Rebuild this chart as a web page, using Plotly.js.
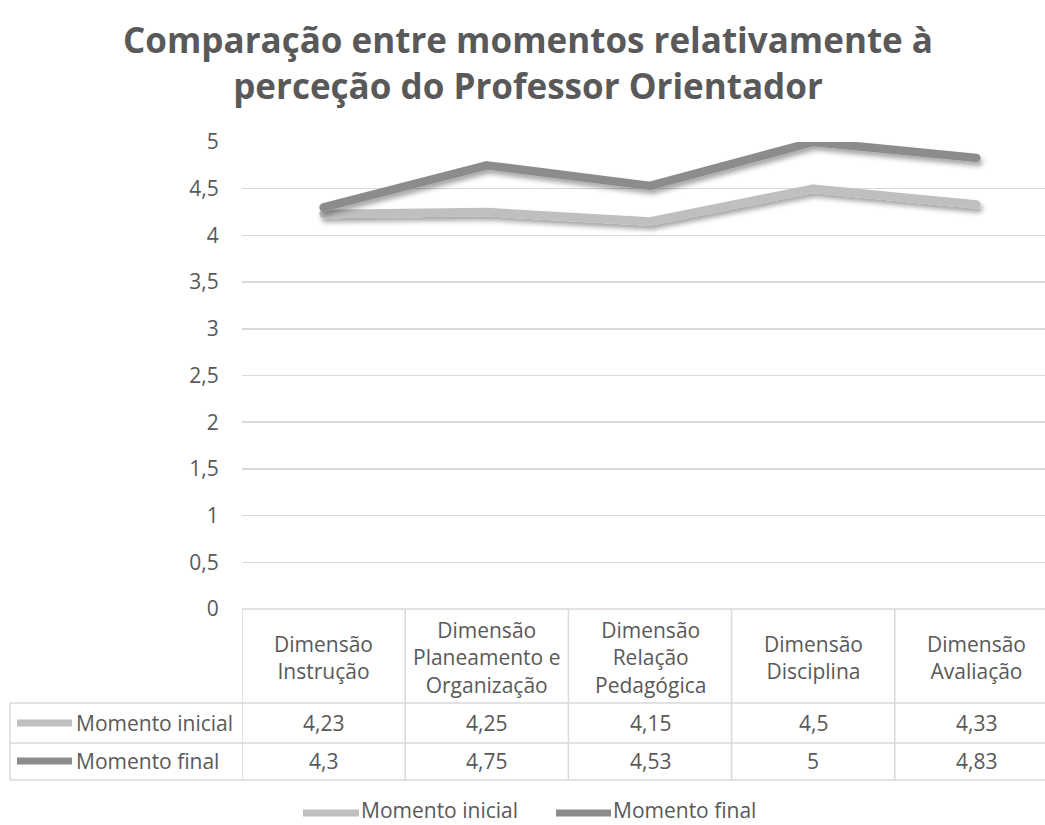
<!DOCTYPE html>
<html>
<head>
<meta charset="utf-8">
<script src="https://cdn.plot.ly/plotly-3.0.1.min.js"></script>
<style>
html,body{margin:0;padding:0;overflow:hidden;background:#fff;}
#chart{width:1060px;height:825px;}
</style>
</head>
<body>
<div id="chart"></div>
<script>
// ---- data ----
var categories = ["Dimensão Instrução", "Dimensão Planeamento e Organização", "Dimensão Relação Pedagógica", "Dimensão Disciplina", "Dimensão Avaliação"];
var categoryLabels = ["Dimensão<br>Instrução", "Dimensão<br>Planeamento e<br>Organização", "Dimensão<br>Relação<br>Pedagógica", "Dimensão<br>Disciplina", "Dimensão<br>Avaliação"];
var seriesNames = ["Momento inicial", "Momento final"];
var momentoInicial = [4.23, 4.25, 4.15, 4.5, 4.33];
var momentoFinal = [4.3, 4.75, 4.53, 5, 4.83];
var yTicks = [0, 0.5, 1, 1.5, 2, 2.5, 3, 3.5, 4, 4.5, 5];
var titleText = "Comparação entre momentos relativamente à<br>perceção do Professor Orientador";

// ---- layout geometry ----
var W = 1060, H = 825;
var L = 242, R = 2, T = 142, B = 216;
var plotW = W - L - R, plotH = H - T - B;
var bottomY = H - B;
function px(x){ return (x - L) / plotW; }
function py(y){ return (bottomY - y) / plotH; }

var colors = ["#bfbfbf", "#8c8c8c"];
var textColor = "#595959";
var gridColor = "#d9d9d9";
var fontFam = "'Open Sans', 'Noto Sans', sans-serif";
var fs = 21;
var series = [momentoInicial, momentoFinal];

function fmt(v){ return String(v).replace('.', ','); }

var traces = series.map(function(vals, i){
  return {
    type: 'scatter', mode: 'lines', name: seriesNames[i],
    x: categories, y: vals,
    line: {color: colors[i], width: 8.5},
    hoverinfo: 'skip', showlegend: false
  };
});

var shapes = [];
var annotations = [];
var tableBottom = 780, rowLines = [703, 743, 780], rowCenters = [723, 761];
var borderLine = {color: gridColor, width: 1.5};

// title
annotations.push({xref:'paper', yref:'paper', x:px(528), y:py(62), text:titleText, showarrow:false,
  xanchor:'center', yanchor:'middle', align:'center',
  font:{family:fontFam, size:35, color:textColor, weight:'bold'}});

// header top (axis line)
shapes.push({type:'line', xref:'paper', yref:'paper', x0:0, x1:1, y0:0, y1:0, line:borderLine, layer:'below'});
// column separators
for (var c = 0; c <= categories.length; c++) {
  shapes.push({type:'line', xref:'x', yref:'paper', x0:c-0.5, x1:c-0.5, y0:0, y1:py(tableBottom), line:borderLine});
}
// data row lines
rowLines.forEach(function(y){
  shapes.push({type:'line', xref:'paper', yref:'paper', x0:px(10), x1:1, y0:py(y), y1:py(y), line:borderLine});
});
// left edge
shapes.push({type:'line', xref:'paper', yref:'paper', x0:px(10), x1:px(10), y0:py(703), y1:py(tableBottom), line:borderLine});

// header labels
categories.forEach(function(cat, i){
  annotations.push({xref:'x', yref:'paper', x:cat, y:py(657), text:categoryLabels[i], showarrow:false,
    xanchor:'center', yanchor:'middle', align:'center', font:{family:fontFam, size:fs, color:textColor}});
});
// data rows
series.forEach(function(vals, s){
  var yc = rowCenters[s];
  shapes.push({type:'line', xref:'paper', yref:'paper', x0:px(17), x1:px(72), y0:py(yc), y1:py(yc), line:{color:colors[s], width:7}});
  annotations.push({xref:'paper', yref:'paper', x:px(74), y:py(yc), text:seriesNames[s], showarrow:false,
    xanchor:'left', yanchor:'middle', font:{family:fontFam, size:fs, color:textColor}});
  vals.forEach(function(v, i){
    annotations.push({xref:'x', yref:'paper', x:categories[i], y:py(yc), text:fmt(v), showarrow:false,
      xanchor:'center', yanchor:'middle', font:{family:fontFam, size:fs, color:textColor}});
  });
});
// bottom legend
var legKeys = [[303, 359, 360], [556, 611, 612]];
series.forEach(function(vals, s){
  var k = legKeys[s];
  shapes.push({type:'line', xref:'paper', yref:'paper', x0:px(k[0]), x1:px(k[1]), y0:py(813), y1:py(813), line:{color:colors[s], width:7}});
  annotations.push({xref:'paper', yref:'paper', x:px(k[2]), y:py(810), text:seriesNames[s], showarrow:false, borderpad:0,
    xanchor:'left', yanchor:'middle', font:{family:fontFam, size:fs, color:textColor}});
});

var layout = {
  width: W, height: H,
  margin: {l:L, r:R, t:T, b:B, pad:0},
  paper_bgcolor: '#fff', plot_bgcolor: '#fff',
  separators: ',.',
  showlegend: false,
  xaxis: {type:'category', range:[-0.5, categories.length - 0.5], showticklabels:false, showgrid:false, zeroline:false, showline:false, ticks:''},
  yaxis: {range:[0, 5], tickvals: yTicks, ticktext: yTicks.map(fmt), showgrid:true, gridcolor:gridColor, gridwidth:1.5,
    zeroline:false, showline:false, ticks:'outside', ticklen:18, tickcolor:'rgba(0,0,0,0)',
    tickfont:{family:fontFam, size:fs, color:textColor}},
  shapes: shapes,
  annotations: annotations
};

Plotly.newPlot('chart', traces, layout, {staticPlot:true}).then(function(gd){
  var svg = gd.querySelector('svg.main-svg');
  var ns = 'http://www.w3.org/2000/svg';
  var defs = svg.querySelector('defs') || svg.insertBefore(document.createElementNS(ns,'defs'), svg.firstChild);
  var f = document.createElementNS(ns,'filter');
  f.setAttribute('id','lineShadow'); f.setAttribute('x','-10%'); f.setAttribute('y','-50%');
  f.setAttribute('width','120%'); f.setAttribute('height','200%');
  f.innerHTML = '<feDropShadow dx="2" dy="4" stdDeviation="2.5" flood-color="#000" flood-opacity="0.35"/>';
  defs.appendChild(f);
  gd.querySelectorAll('.scatterlayer path.js-line').forEach(function(p){
    p.setAttribute('filter','url(#lineShadow)');
    p.style.strokeLinecap = 'round';
    p.style.strokeLinejoin = 'round';
  });
});
</script>
</body>
</html>
